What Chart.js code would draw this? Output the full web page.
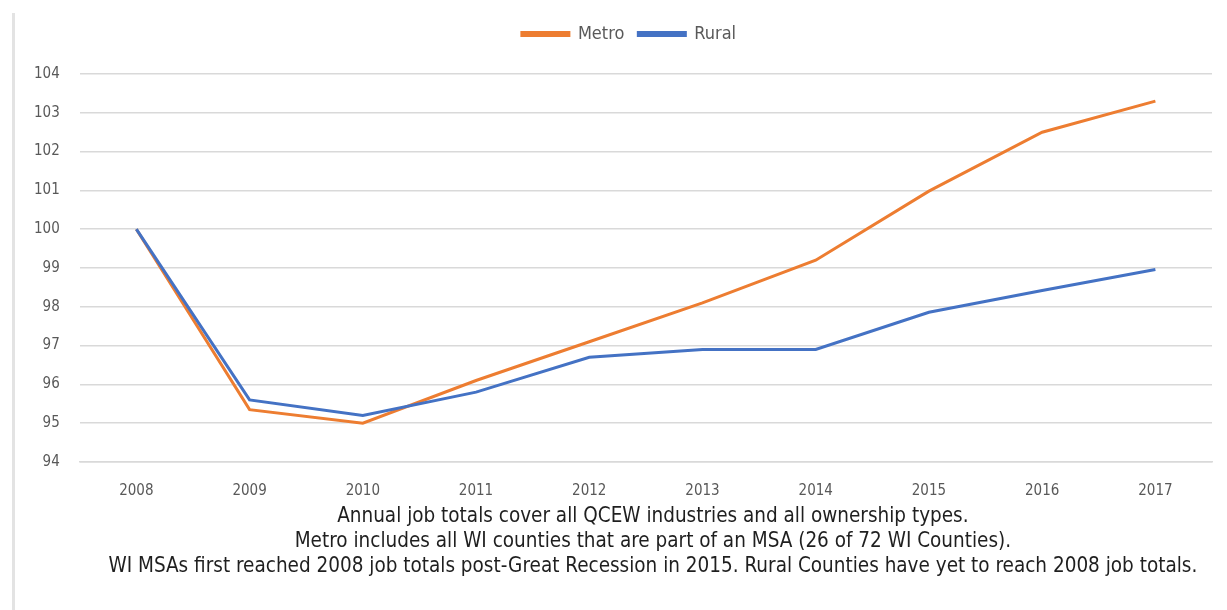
<!DOCTYPE html>
<html>
<head>
<meta charset="utf-8">
<script src="https://cdn.jsdelivr.net/npm/chart.js@4.4.0/dist/chart.umd.min.js"></script>
<style>
    html, body { margin: 0; padding: 0; background: #fff; }
    #wrap { position: relative; width: 1227px; height: 610px; }
    #edge { position: absolute; left: 12px; top: 13px; width: 3px; height: 597px; background: #e3e3e3; }
    canvas { position: absolute; left: 0; top: 0; }
</style>
</head>
<body>
<div id="wrap">
    <div id="edge"></div>
    <canvas id="grafico" width="1227" height="610"></canvas>
</div>
<script>
// Dados (índice 2008 = 100)
const anos = ['2008', '2009', '2010', '2011', '2012', '2013', '2014', '2015', '2016', '2017'];
const metro = [100, 95.35, 95.0, 96.1, 97.1, 98.1, 99.2, 100.98, 102.5, 103.3];
const rural = [100, 95.6, 95.2, 95.8, 96.7, 96.9, 96.9, 97.86, 98.42, 98.96];
const notas = [
    'Annual job totals cover all QCEW industries and all ownership types.',
    'Metro includes all WI counties that are part of an MSA (26 of 72 WI Counties).',
    'WI MSAs first reached 2008 job totals post-Great Recession in 2015. Rural Counties have yet to reach 2008 job totals.'
];

const fonte = '"Liberation Sans Narrow", "DejaVu Sans Condensed", sans-serif';

// Plugin simples para escrever as notas abaixo do gráfico
const notasPlugin = {
    id: 'notas',
    afterDraw(chart) {
        const ctx = chart.ctx;
        const area = chart.chartArea;
        const cx = (area.left + area.right) / 2 + 7;
        ctx.save();
        ctx.font = '20.5px ' + fonte;
        ctx.fillStyle = '#1f1f1f';
        ctx.textAlign = 'center';
        ctx.textBaseline = 'middle';
        notas.forEach(function (linha, i) {
            ctx.fillText(linha, cx, 517 + i * 25);
        });
        ctx.restore();
    }
};

// Espaço extra abaixo da legenda e pequeno deslocamento para a direita
const ajusteLegenda = {
    id: 'ajusteLegenda',
    beforeInit(chart) {
        const fitOriginal = chart.legend.fit;
        chart.legend.fit = function () {
            fitOriginal.bind(chart.legend)();
            this.height += 21;
        };
    },
    afterUpdate(chart) {
        const leg = chart.legend;
        leg.left += 16;
        leg.right += 16;
        leg.legendHitBoxes.forEach(function (h) { h.left += 16; });
    }
};

const ctx = document.getElementById('grafico').getContext('2d');
new Chart(ctx, {
    type: 'line',
    data: {
        labels: anos,
        datasets: [
            {
                label: 'Metro',
                data: metro,
                borderColor: '#ED7D31',
                backgroundColor: '#ED7D31',
                borderWidth: 3,
                pointRadius: 0,
                tension: 0,
                order: 1
            },
            {
                label: 'Rural',
                data: rural,
                borderColor: '#4472C4',
                backgroundColor: '#4472C4',
                borderWidth: 3,
                pointRadius: 0,
                tension: 0,
                order: 0
            }
        ]
    },
    options: {
        responsive: false,
        animation: false,
        layout: { padding: { left: 14, right: 15, top: 11, bottom: 98 } },
        plugins: {
            legend: {
                position: 'top',
                labels: {
                    boxWidth: 47,
                    boxHeight: 3,
                    padding: 14,
                    color: '#595959',
                    font: { family: fonte, size: 18 },
                    sort: function (a, b) { return a.datasetIndex - b.datasetIndex; }
                }
            },
            tooltip: { enabled: false }
        },
        scales: {
            x: {
                offset: true,
                grid: { display: false },
                border: { display: true, color: '#d9d9d9', width: 1.5 },
                ticks: { color: '#595959', font: { family: fonte, size: 15 }, padding: 12 }
            },
            y: {
                min: 94,
                max: 104,
                grid: { color: '#d9d9d9', lineWidth: 1.5, drawTicks: false },
                border: { display: false },
                ticks: { stepSize: 1, color: '#595959', font: { family: fonte, size: 15 }, padding: 20 }
            }
        }
    },
    plugins: [notasPlugin, ajusteLegenda]
});
</script>
</body>
</html>
